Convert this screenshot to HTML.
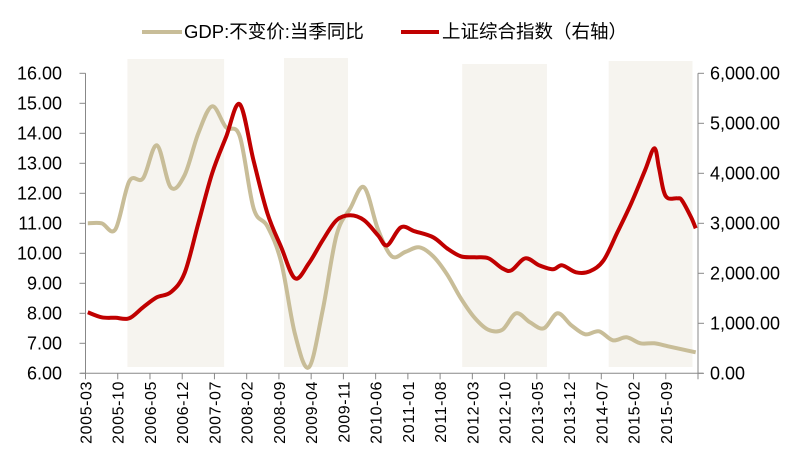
<!DOCTYPE html>
<html><head><meta charset="utf-8"><style>
body{margin:0;background:#fff;}
svg{display:block;font-family:"Liberation Sans","Noto Sans CJK SC",sans-serif;}
</style></head><body>
<svg id="c" width="810" height="471"></svg>
<script>
const gdpMonths=[0,3,6,9,12,15,18,21,24,27,30,33,36,39,42,45,48,51,54,57,60,63,66,69,72,75,78,81,84,87,90,93,96,99,102,105,108,111,114,117,120,123,126,129,132];
const gdpValues=[11.0,11.0,10.8,12.4,12.5,13.6,12.2,12.6,14.0,14.9,14.2,13.9,11.5,10.9,9.7,7.3,6.2,8.1,10.6,11.5,12.2,10.8,9.9,10.05,10.2,9.9,9.3,8.5,7.85,7.45,7.45,8.0,7.7,7.5,8.0,7.6,7.3,7.4,7.1,7.2,7.0,7.0,6.9,6.8,6.7];
const stockMonths=[0,3,6,9,12,15,18,21,24,27,30,33,36,39,42,45,48,51,54,57,60,63,65,68,71,75,78,81,84,87,90,92,95,98,101,103,106,109,112,115,118,121,123,124,125,126,128,129,131,132];
const stockValues=[1220,1120,1110,1100,1320,1520,1620,2000,3000,4000,4720,5380,4250,3200,2520,1900,2200,2660,3060,3160,3060,2760,2560,2920,2840,2720,2500,2340,2320,2300,2100,2060,2300,2160,2080,2160,2020,2040,2260,2820,3400,4060,4500,4120,3660,3500,3500,3460,3120,2900];
const leftTicks=["6.00","7.00","8.00","9.00","10.00","11.00","12.00","13.00","14.00","15.00","16.00"];
const rightTicks=["0.00","1,000.00","2,000.00","3,000.00","4,000.00","5,000.00","6,000.00"];
const xLabels=["2005-03","2005-10","2006-05","2006-12","2007-07","2008-02","2008-09","2009-04","2009-11","2010-06","2011-01","2011-08","2012-03","2012-10","2013-05","2013-12","2014-07","2015-02","2015-09"];
const shadeRanges=[[8.6,29.6,59],[42.6,56.5,58],[81.3,99.7,64],[113.1,131.3,61]];

const NS="http://www.w3.org/2000/svg";
const svg=document.getElementById('c');
const X0=85.5,XR=698,PW=(XR-X0)/133,Y0=73.3,Y1=373.3;
const xm=m=>X0+PW*(m+0.5);
const yl=v=>Y1-(v-6)/10*(Y1-Y0);
const yr=v=>Y1-v/6000*(Y1-Y0);
function el(t,a,p){const e=document.createElementNS(NS,t);for(const k in a)e.setAttribute(k,a[k]);(p||svg).appendChild(e);return e;}

shadeRanges.forEach(r=>{
  const e=el('rect',{x:xm(r[0]),y:r[2],width:xm(r[1])-xm(r[0]),height:367-r[2],fill:'#f6f4ef'});
  
  
});
let a=el('line',{x1:X0,y1:Y0,x2:X0,y2:Y1,stroke:'#888','stroke-width':1});

a=el('line',{x1:XR,y1:Y0,x2:XR,y2:Y1,stroke:'#888','stroke-width':1});

a=el('line',{x1:X0-5,y1:Y1,x2:XR+5,y2:Y1,stroke:'#888','stroke-width':1});

leftTicks.forEach((t,i)=>{
  const y=yl(6+i);
  el('line',{x1:X0-6,y1:y,x2:X0,y2:y,stroke:'#888'});
  const e=el('text',{x:62,y:y+6,'text-anchor':'end','font-size':18,fill:'#000'});e.textContent=t;
  
  
});
rightTicks.forEach((t,i)=>{
  const y=yr(i*1000);
  el('line',{x1:XR,y1:y,x2:XR+6,y2:y,stroke:'#888'});
  const e=el('text',{x:710,y:y+6,'font-size':18,fill:'#000'});e.textContent=t;
  
  
});
for(let i=0;i<=19;i++){const x=X0+PW*7*i;if(x<=XR+1)el('line',{x1:x,y1:Y1,x2:x,y2:Y1+6,stroke:'#888'});}
xLabels.forEach((t,i)=>{
  const x=X0+PW*7*i;
  const e=el('text',{transform:`translate(${x+6},381) rotate(-90)`,'text-anchor':'end','font-size':16,'letter-spacing':0.6,fill:'#000'});e.textContent=t;
  
  
});
function smooth(pts){
  let d=`M${pts[0][0]},${pts[0][1]}`;
  for(let i=0;i<pts.length-1;i++){
    const p0=pts[Math.max(0,i-1)],p1=pts[i],p2=pts[i+1],p3=pts[Math.min(pts.length-1,i+2)];
    const c1=[p1[0]+(p2[0]-p0[0])/6,p1[1]+(p2[1]-p0[1])/6],c2=[p2[0]-(p3[0]-p1[0])/6,p2[1]-(p3[1]-p1[1])/6];
    d+=`C${c1[0]},${c1[1]} ${c2[0]},${c2[1]} ${p2[0]},${p2[1]}`;
  }
  return d;
}
let s=el('path',{d:smooth(gdpMonths.map((m,i)=>[xm(m),yl(gdpValues[i])])),fill:'none',stroke:'#c8bd98','stroke-width':4,'stroke-linejoin':'round'});

s=el('path',{d:smooth(stockMonths.map((m,i)=>[xm(m),yr(stockValues[i])])),fill:'none',stroke:'#c00000','stroke-width':4,'stroke-linejoin':'round'});

</script>
<svg style="position:absolute;left:0;top:0" width="810" height="60">
<g>
<line x1="142" y1="32" x2="182" y2="32" stroke="#c8bd98" stroke-width="4"/>
<text x="184" y="38" font-size="18.5" font-family="Liberation Sans,Noto Sans CJK SC,sans-serif">GDP:不变价:当季同比</text></g>
<g>
<line x1="401" y1="32" x2="439" y2="32" stroke="#c00000" stroke-width="4"/>
<text x="442" y="38" font-size="18.5" font-family="Liberation Sans,Noto Sans CJK SC,sans-serif">上证综合指数（右轴）</text></g>
</svg>
</body></html>
